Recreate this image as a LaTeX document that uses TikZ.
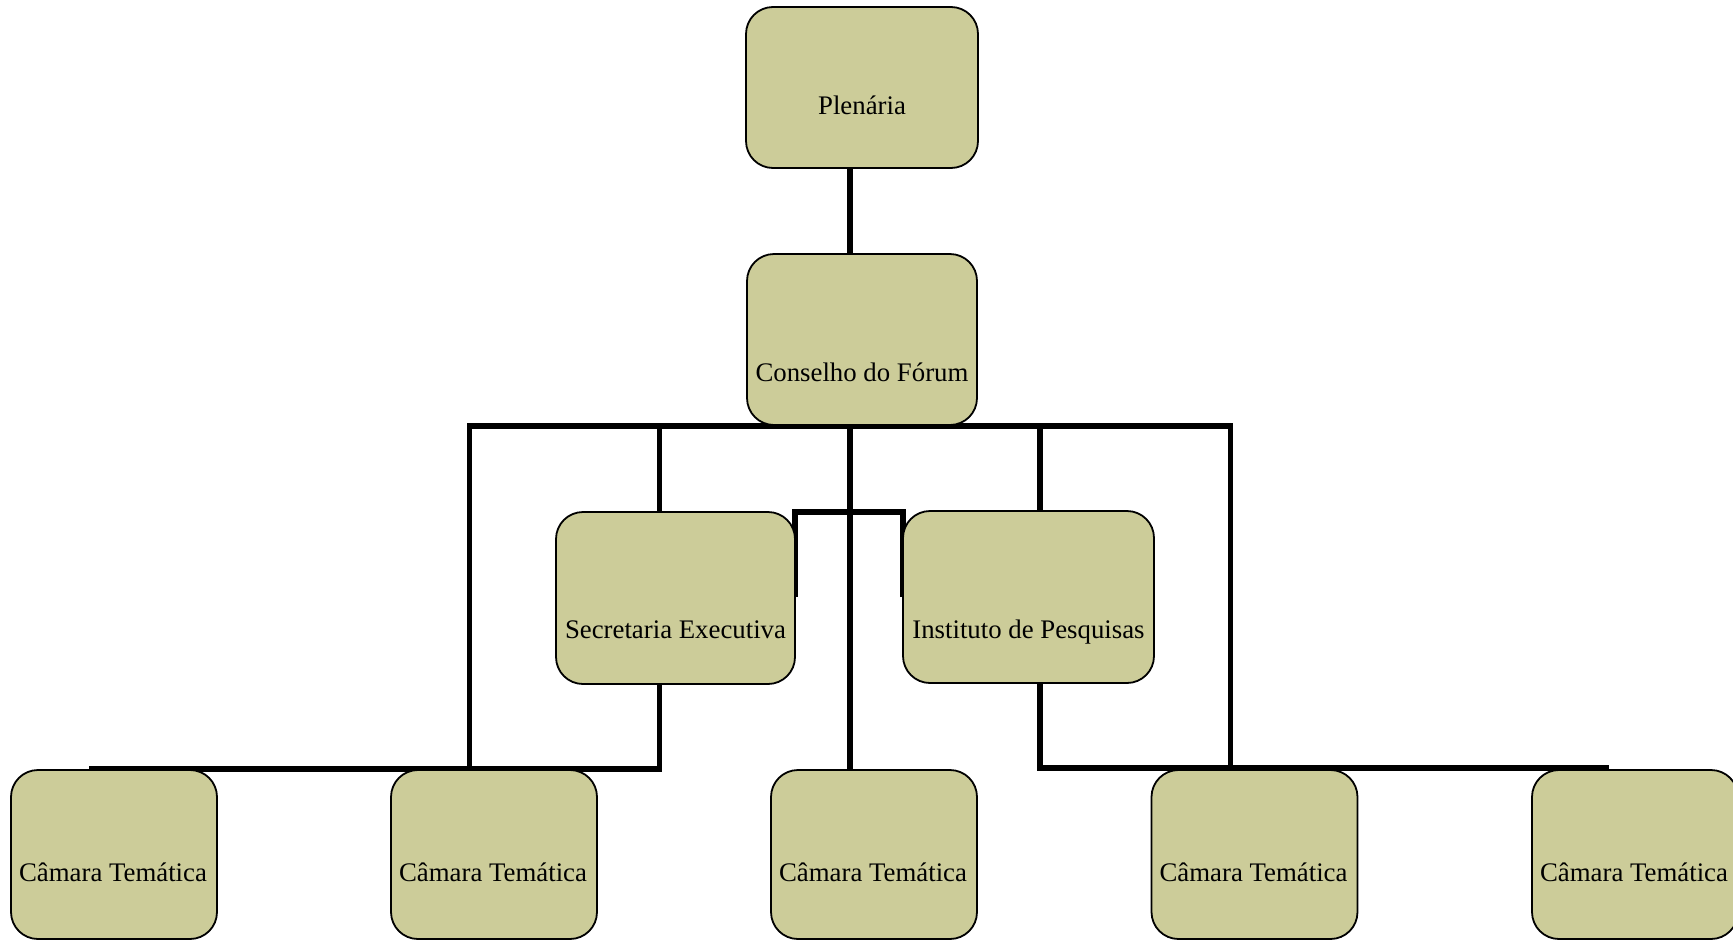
\documentclass[tikz,border=0pt]{standalone}
\usepackage{fontspec}
\setmainfont{Liberation Serif}
\usetikzlibrary{calc,backgrounds}
\definecolor{boxfill}{RGB}{204,204,153}
\begin{document}
\begin{tikzpicture}[x=1pt,y=-1pt,
  orgbox/.style={draw=black,line width=1.8pt,fill=boxfill,rounded corners=27pt,
    inner sep=0pt,outer sep=0pt,minimum width=#1},
  orgbox/.default=206pt,
  boxlabel/.style={anchor=base,inner sep=0pt,font=\fontsize{26.8}{32}\selectfont},
  conn/.style={draw=black,line width=5.5pt}]
\useasboundingbox (0,0) rectangle (1733,940);

% boxes
\node[orgbox=232pt,minimum height=161pt] (plen) at (862,87.5) {};
\node[orgbox=230pt,minimum height=171pt] (cons) at (862,339.5) {};
\node[orgbox=239pt,minimum height=172pt] (sec)  at (675.5,598) {};
\node[orgbox=251pt,minimum height=172pt] (inst) at (1028.5,597) {};
\node[orgbox,minimum height=169pt] (cam1) at (114,854.5) {};
\node[orgbox,minimum height=169pt] (cam2) at (494,854.5) {};
\node[orgbox,minimum height=169pt] (cam3) at (874,854.5) {};
\node[orgbox,minimum height=169pt] (cam4) at (1254.5,854.5) {};
\node[orgbox,minimum height=169pt] (cam5) at (1635,854.5) {};

% labels
\node[boxlabel] (tplen) at ($(plen.center)+(0,26.5)$) {Plenária};
\node[boxlabel] (tcons) at ($(cons.center)+(0,41.5)$) {Conselho do Fórum};
\node[boxlabel] (tsec)  at ($(sec.center)+(0,40)$) {Secretaria Executiva};
\node[boxlabel] (tinst) at ($(inst.center)+(0,41)$) {Instituto de Pesquisas};
\foreach \i in {1,...,5}
  \node[boxlabel] (tcam\i) at ($(cam\i.center)+(-1,26.5)$) {Câmara Temática};

% reference points of the line work
\coordinate (xs) at (659.5,0);
\coordinate (xc) at (850,0);
\coordinate (xi) at (1040,0);
\coordinate (busL) at (469.5,426);
\coordinate (busR) at (1230.5,426);
\coordinate (lowL) at (89,769);
\coordinate (lowR) at (1609,768);
\coordinate (bk) at (0,597);

\begin{scope}[on background layer]
  \fill[white] (0,0) rectangle (1733,940);
  % main vertical axis
  \draw[conn] (xc |- plen.south) -- (xc |- cons.north);
  \draw[conn] (xc |- cons.south) -- (xc |- cam3.north);
  % distribution bus under the council, with its two outer drops
  \draw[conn] (busL |- lowL) -- (busL) -- (busR) -- (busR |- lowR);
  \draw[conn] (xs |- busL) -- (xs |- sec.north);
  \draw[conn] (xi |- busL) -- (xi |- inst.north);
  % link between secretariat and institute
  \draw[conn] (sec.east |- bk) |- (inst.west |- sec.north) -- (inst.west |- bk);
  % lower branches to the chambers
  \draw[conn] (lowL) -| (xs |- sec.south);
  \draw[conn] (xi |- inst.south) |- (lowR);
\end{scope}
\end{tikzpicture}
\end{document}
